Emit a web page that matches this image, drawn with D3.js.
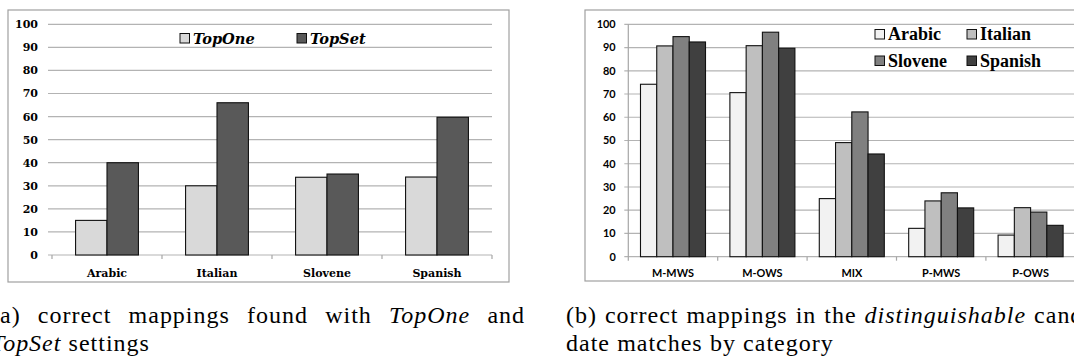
<!DOCTYPE html>
<html>
<head>
<meta charset="utf-8">
<script src="https://cdn.jsdelivr.net/npm/d3@7"></script>
<style>
  html, body { margin: 0; padding: 0; background: #fff; overflow: hidden; }
  svg { display: block; }
  .serif { font-family: "Liberation Serif", Tinos, "Times New Roman", "Noto Serif", "DejaVu Serif"; }
  .sans { font-family: Lato, "Open Sans", "Noto Sans", "DejaVu Sans"; }
  .dserif { font-family: "DejaVu Serif"; }
</style>
</head>
<body>
<svg width="1074" height="358"></svg>
<script>
// chart (a)
const langs = ['Arabic', 'Italian', 'Slovene', 'Spanish'];
const settings = ['TopOne', 'TopSet'];
const topOne = [15, 30, 33.7, 33.8];
const topSet = [40, 66, 35.1, 59.7];

// chart (b)
const categories = ['M-MWS', 'M-OWS', 'MIX', 'P-MWS', 'P-OWS'];
const arabic = [74.2, 70.6, 25.0, 12.2, 9.3];
const italian = [90.7, 90.8, 49.1, 24.0, 21.1];
const slovene = [94.7, 96.6, 62.3, 27.5, 19.2];
const spanish = [92.4, 89.7, 44.2, 21.0, 13.5];

const yTicks = [0, 10, 20, 30, 40, 50, 60, 70, 80, 90, 100];

const svg = d3.select('svg');

// width of `txt` at a given size in the given class
function measure(cls, txt, size, weight) {
  const t = svg.append('text').attr('class', cls).attr('font-size', size)
      .attr('font-weight', weight || 'normal').text(txt);
  const len = t.node().getComputedTextLength();
  t.remove();
  return len;
}
// font size that makes `txt` come out `target` px wide
function fitSize(cls, txt, target, weight) {
  return 100 * target / measure(cls, txt, 100, weight);
}

function drawChart(c) {
  const g = svg.append('g');

  // outer frame
  g.append('rect')
      .attr('x', c.frame[0]).attr('y', c.frame[1])
      .attr('width', c.frame[2]).attr('height', c.frame[3])
      .attr('fill', '#fff').attr('stroke', '#a0a0a0').attr('stroke-width', 1.2);

  const x0 = d3.scaleBand().domain(c.cats).range([c.left, c.right]);
  const x1 = d3.scaleBand().domain(c.series).range([0, x0.bandwidth()])
      .paddingInner(0).paddingOuter(0.75);
  const y = d3.scaleLinear().domain([0, 100]).range([c.bottom, c.top]);

  // grid + tick marks
  g.append('g').selectAll('line')
    .data(yTicks)
    .join('line')
      .attr('x1', c.left - 4).attr('x2', c.right)
      .attr('y1', d => y(d)).attr('y2', d => y(d))
      .attr('stroke', '#b3b3b3').attr('stroke-width', 1.2);

  if (c.yLine) {
    g.append('line')
        .attr('x1', c.left).attr('x2', c.left)
        .attr('y1', y(100)).attr('y2', y(0))
        .attr('stroke', '#a6a6a6').attr('stroke-width', 1.2);
  }

  // x axis ticks at band edges
  const edges = c.cats.map(d => x0(d)).concat([c.right]);
  g.append('g').selectAll('line')
    .data(edges)
    .join('line')
      .attr('x1', d => d).attr('x2', d => d)
      .attr('y1', y(0)).attr('y2', y(0) + 4)
      .attr('stroke', '#a6a6a6').attr('stroke-width', 1.2);

  // y labels
  g.append('g').selectAll('text')
    .data(yTicks)
    .join('text')
      .attr('class', c.fontClass)
      .attr('x', c.left - c.labelGap)
      .attr('y', d => y(d))
      .attr('dy', '0.36em')
      .attr('text-anchor', 'end')
      .attr('font-size', c.fontSize).attr('font-weight', 'bold')
      .text(d => d);

  // bars
  const groups = g.append('g').selectAll('g')
    .data(c.cats.map((cat, i) => ({ cat, vals: c.series.map((s, j) => ({ s, v: c.values[j][i] })) })))
    .join('g')
      .attr('transform', d => `translate(${x0(d.cat)},0)`);

  groups.selectAll('rect')
    .data(d => d.vals)
    .join('rect')
      .attr('x', d => x1(d.s))
      .attr('width', x1.bandwidth())
      .attr('y', d => y(d.v))
      .attr('height', d => y(0) - y(d.v))
      .attr('fill', d => c.colors[c.series.indexOf(d.s)])
      .attr('stroke', '#111').attr('stroke-width', 1.1);

  // category labels
  g.append('g').selectAll('text')
    .data(c.cats)
    .join('text')
      .attr('class', c.fontClass)
      .attr('x', d => x0(d) + x0.bandwidth() / 2)
      .attr('y', 277)
      .attr('text-anchor', 'middle')
      .attr('font-size', c.fontSize).attr('font-weight', 'bold')
      .text(d => d);

  // legend
  const leg = g.append('g').selectAll('g')
    .data(c.series)
    .join('g')
      .attr('transform', (d, i) => `translate(${c.legendPos[i][0]},${c.legendPos[i][1]})`);
  leg.append('rect')
      .attr('x', 0).attr('y', -10.5)
      .attr('width', 9.5).attr('height', 9.5)
      .attr('fill', (d, i) => c.colors[i])
      .attr('stroke', '#111').attr('stroke-width', 1);
  leg.append('text')
      .attr('class', c.legendClass)
      .attr('x', 13).attr('y', 0)
      .attr('font-size', c.legendSize)
      .attr('font-weight', 'bold')
      .attr('font-style', c.legendItalic ? 'italic' : 'normal')
      .text(d => d);
}

drawChart({
  frame: [8, 10, 501, 272],
  cats: langs, series: settings, values: [topOne, topSet],
  colors: ['#d9d9d9', '#595959'],
  left: 52, right: 492, top: 24.3, bottom: 255,
  labelGap: 14, yLine: false,
  fontClass: 'dserif', fontSize: 11,
  legendClass: 'dserif', legendSize: 14.6, legendItalic: true,
  legendPos: [[180, 44], [297, 44]]
});

drawChart({
  frame: [585, 10, 520, 271],
  cats: categories, series: langs, values: [arabic, italian, slovene, spanish],
  colors: ['#f2f2f2', '#bfbfbf', '#808080', '#404040'],
  left: 628.3, right: 1075.3, top: 24.3, bottom: 256.7,
  labelGap: 12.6, yLine: true,
  fontClass: 'sans', fontSize: fitSize('sans', 'M-MWS', 42, 'bold'),
  legendClass: 'serif', legendSize: fitSize('serif', 'Spanish', 61, 'bold'), legendItalic: false,
  legendPos: [[875, 40], [967, 40], [875, 66.5], [967, 66.5]]
});

// captions: 24px, letters spread a little to get the wider look of the original
const capSize = 24;
const line2 = 'date matches by category';
const capSpacing = Math.max(0, (267 - measure('serif', line2, capSize)) / line2.length);

// set word by word so line one can be justified
function captionLine(x, yb, words, width) {
  const g = svg.append('g');
  const items = g.selectAll('text')
    .data(words)
    .join('text')
      .attr('class', 'serif')
      .attr('y', yb)
      .attr('font-size', capSize)
      .attr('letter-spacing', capSpacing)
      .attr('font-style', d => d.it ? 'italic' : 'normal')
      .text(d => d.t);
  const widths = items.nodes().map(n => n.getComputedTextLength());
  const total = d3.sum(widths);
  const gap = width ? (width - total) / (words.length - 1) : capSize * 0.3;
  let cx = x;
  items.attr('x', (d, i) => { const p = cx; cx += widths[i] + gap; return p; });
}
const w = t => t.split(' ').map(s => ({ t: s }));

captionLine(-9, 323, [...w('(a) correct mappings found with'), { t: 'TopOne', it: true }, { t: 'and' }], 534);
captionLine(-9, 351, [{ t: 'TopSet', it: true }, { t: 'settings' }]);
captionLine(566, 323, [...w('(b) correct mappings in the'), { t: 'distinguishable', it: true }, { t: 'candi-' }], 534);
captionLine(566, 351, w(line2));
</script>
</body>
</html>
